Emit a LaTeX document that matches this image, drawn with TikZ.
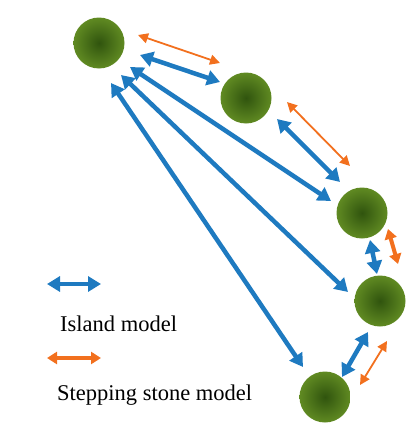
\documentclass[tikz,border=0pt]{standalone}
\usepackage{fontspec}
\setmainfont{Liberation Serif}
\usetikzlibrary{arrows.meta}
\definecolor{islandblue}{RGB}{30,122,192}
\definecolor{stoneorange}{RGB}{242,112,30}
\definecolor{greenin}{RGB}{48,84,14}
\definecolor{greenout}{RGB}{96,138,34}
\begin{document}
\begin{tikzpicture}[x=1pt,y=-1pt,
  deme/.style={circle,minimum size=51pt,inner sep=0pt,inner color=greenin,outer color=greenout},
  island/.style={draw=islandblue,line width=4.5pt,{Triangle[length=13pt,width=15pt]}-{Triangle[length=13pt,width=15pt]}},
  stone/.style={draw=stoneorange,line width=1.8pt,{Triangle[length=10pt,width=10pt]}-{Triangle[length=10pt,width=10pt]}},
  stonethick/.style={draw=stoneorange,line width=4pt,{Triangle[length=10pt,width=12pt]}-{Triangle[length=10pt,width=12pt]}},
  legendtext/.style={anchor=west,inner sep=0pt,font=\fontsize{22.5}{27}\selectfont}]
\useasboundingbox (0,0) rectangle (417,434);
% demes
\node[deme] (A) at (99,43) {};
\node[deme] (B) at (246,98) {};
\node[deme] (C) at (362,213) {};
\node[deme] (D) at (380,301) {};
\node[deme] (E) at (325,397) {};
% arrow end points
\coordinate (ab1) at (140,55);  \coordinate (ab2) at (220,82);
\coordinate (ac1) at (130,67);  \coordinate (ac2) at (331,201);
\coordinate (ad1) at (121,75);  \coordinate (ad2) at (348,292);
\coordinate (ae1) at (111,83);  \coordinate (ae2) at (303,367);
\coordinate (bc1) at (277,119); \coordinate (bc2) at (340,182);
\coordinate (cd1) at (370,240); \coordinate (cd2) at (377,274);
\coordinate (de1) at (368,332); \coordinate (de2) at (342,377);
\coordinate (sab1) at (138,35); \coordinate (sab2) at (220,63);
\coordinate (sbc1) at (287,102); \coordinate (sbc2) at (350,166);
\coordinate (scd1) at (388,229); \coordinate (scd2) at (398,264);
\coordinate (sde1) at (387,341); \coordinate (sde2) at (360,385);
% island model
\draw[island] (ab1) -- (ab2);
\draw[island] (ac1) -- (ac2);
\draw[island] (ad1) -- (ad2);
\draw[island] (ae1) -- (ae2);
\draw[island] (bc1) -- (bc2);
\draw[island] (cd1) -- (cd2);
\draw[island] (de1) -- (de2);
% stepping stone model
\draw[stone] (sab1) -- (sab2);
\draw[stone] (sbc1) -- (sbc2);
\draw[stonethick] (scd1) -- (scd2);
\draw[stone] (sde1) -- (sde2);
% legend
\coordinate (li1) at (47,284); \coordinate (li2) at (101,284);
\coordinate (ls1) at (47,358); \coordinate (ls2) at (101,358);
\draw[island] (li1) -- (li2);
\draw[stonethick] (ls1) -- (ls2);
\node[legendtext] (lit) at (60,324) {Island model};
\node[legendtext] (lst) at (57,395) {Stepping stone model};
\end{tikzpicture}
\end{document}
